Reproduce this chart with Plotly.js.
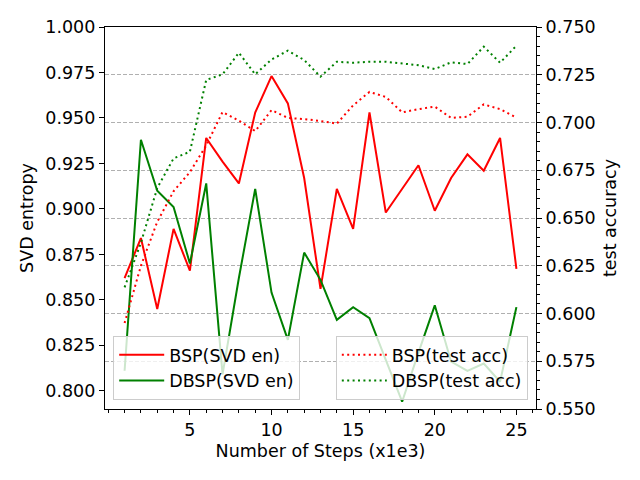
<!DOCTYPE html>
<html>
<head>
<meta charset="utf-8">
<script src="https://cdn.plot.ly/plotly-3.0.1.min.js"></script>
<style>
  html, body { margin: 0; padding: 0; background: #fff; }
  #chart { width: 640px; height: 480px; }
</style>
</head>
<body>
<div id="chart"></div>
<script>
  // values
  const steps = [1, 2, 3, 4, 5, 6, 7, 8, 9, 10, 11, 12, 13, 14, 15, 16, 17, 18, 19, 20, 21, 22, 23, 24, 25];
  const stepTicks = [5, 10, 15, 20, 25];

  const bspSvd  = [0.862, 0.884, 0.845, 0.889, 0.866, 0.939, 0.926, 0.914, 0.953, 0.973, 0.958, 0.917, 0.856,
                   0.911, 0.889, 0.953, 0.898, 0.911, 0.924, 0.899, 0.917, 0.930, 0.921, 0.939, 0.867];
  const dbspSvd = [0.811, 0.938, 0.910, 0.901, 0.870, 0.914, 0.809, 0.862, 0.911, 0.854, 0.828, 0.876, 0.861,
                   0.839, 0.846, 0.840, 0.817, 0.794, 0.821, 0.847, 0.816, 0.811, 0.815, 0.805, 0.846];

  const bspAcc  = [0.595, 0.625, 0.648, 0.664, 0.674, 0.688, 0.7055, 0.701, 0.6955, 0.7065, 0.7024, 0.7018, 0.7008,
                   0.6994, 0.709, 0.716, 0.7134, 0.7053, 0.707, 0.7083, 0.7024, 0.703, 0.7095, 0.707, 0.7025];
  const dbspAcc = [0.6137, 0.637, 0.6657, 0.6812, 0.6847, 0.7223, 0.7252, 0.7365, 0.7252, 0.733, 0.7376, 0.7327, 0.724,
                   0.7318, 0.7313, 0.7318, 0.7318, 0.731, 0.730, 0.728, 0.7315, 0.7306, 0.7397, 0.7313, 0.7402];

  const RED = '#ff0000';
  const GREEN = '#008000';
  const DOT = '2px,3.4px';
  const FONT = { family: 'DejaVu Sans, sans-serif', size: 17.5, color: '#000' };

  function line(name, y, color, axis, legend, dash) {
    return {
      x: steps, y: y, name: name,
      type: 'scatter', mode: 'lines',
      yaxis: axis, legend: legend,
      line: { color: color, width: 2, dash: dash || 'solid' },
      hoverinfo: 'skip',
    };
  }

  const traces = [
    line('BSP(SVD en)', bspSvd, RED, 'y', 'legend'),
    line('DBSP(SVD en)', dbspSvd, GREEN, 'y', 'legend'),
    line('BSP(test acc)', bspAcc, RED, 'y2', 'legend2', DOT),
    line('DBSP(test acc)', dbspAcc, GREEN, 'y2', 'legend2', DOT),
  ];

  const legendCommon = {
    bgcolor: 'rgba(255,255,255,0.8)',
    bordercolor: '#cccccc',
    borderwidth: 1,
    font: FONT,
    yanchor: 'bottom', y: 0.024,
    itemwidth: 45,
  };

  const layout = {
    width: 640, height: 480,
    paper_bgcolor: '#fff', plot_bgcolor: '#fff',
    font: FONT,
    margin: { l: 105, r: 104, t: 27, b: 71 },
    showlegend: true,
    legend:  Object.assign({ x: 0.019, xanchor: 'left' }, legendCommon),
    legend2: Object.assign({ x: 0.981, xanchor: 'right' }, legendCommon),
    xaxis: {
      range: [-0.2, 26.2], tickmode: 'array', tickvals: stepTicks,
      ticks: 'outside', ticklen: 5, tickcolor: '#000', tickwidth: 1,
      minor: { dtick: 1, tick0: 0, ticks: 'outside', ticklen: 3, tickcolor: '#000', tickwidth: 1 },
      showline: true, linecolor: '#000', linewidth: 1.1, mirror: true,
      showgrid: false, zeroline: false,
      tickfont: FONT,
      title: { text: 'Number of Steps (x1e3)', font: FONT, standoff: 5 },
      automargin: false,
    },
    yaxis: {
      range: [0.790, 1.0], tick0: 0.8, dtick: 0.025, tickformat: '.3f',
      ticks: 'outside', ticklen: 5, tickcolor: '#000', tickwidth: 1,
      showline: true, linecolor: '#000', linewidth: 1.1,
      showgrid: false, zeroline: false,
      tickfont: FONT,
      title: { text: 'SVD entropy', font: FONT, standoff: 7 },
      automargin: false,
    },
    yaxis2: {
      overlaying: 'y', side: 'right',
      range: [0.55, 0.75], tick0: 0.55, dtick: 0.025, tickformat: '.3f',
      ticks: 'outside', ticklen: 5, tickcolor: '#000', tickwidth: 1,
      minor: { dtick: 0.005, ticks: 'outside', ticklen: 3, tickcolor: '#000', tickwidth: 1, showgrid: false },
      showline: true, linecolor: '#000', linewidth: 1.1,
      showgrid: true, gridcolor: '#b0b0b0', gridwidth: 1, griddash: '4px,2px',
      zeroline: false,
      tickfont: FONT,
      title: { text: 'test accuracy', font: FONT, standoff: 9 },
      automargin: false,
    },
  };

  Plotly.newPlot('chart', traces, layout, { staticPlot: true, displayModeBar: false });
</script>
</body>
</html>
